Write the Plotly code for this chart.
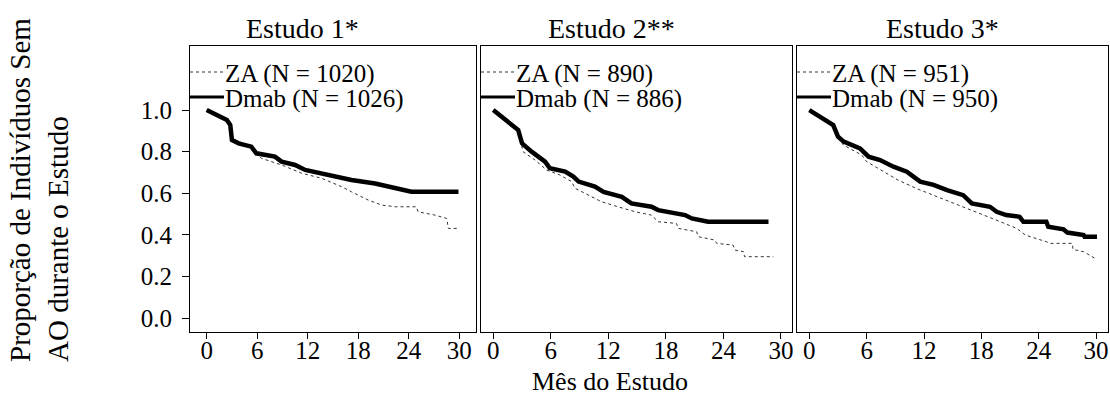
import plotly.graph_objects as go

# ---------------- data ----------------
months_ticks = [0, 6, 12, 18, 24, 30]
prop_ticks = [0.0, 0.2, 0.4, 0.6, 0.8, 1.0]
panel_titles = ["Estudo 1*", "Estudo 2**", "Estudo 3*"]
za_labels = ["ZA (N = 1020)", "ZA (N = 890)", "ZA (N = 951)"]
dm_labels = ["Dmab (N = 1026)", "Dmab (N = 886)", "Dmab (N = 950)"]

s1_za_m = [0, 2.4, 2.8, 3.0, 3.8, 5.3, 5.9, 6.5, 8.9, 11.3, 13.65, 16.0, 17.2, 19.2,
           20.8, 22.4, 24.9, 25.1, 27.1, 28.5, 28.7, 29.9]
s1_za_v = [1.0, 0.952, 0.928, 0.856, 0.840, 0.824, 0.792, 0.768, 0.736, 0.696, 0.672,
           0.632, 0.607, 0.567, 0.543, 0.535, 0.535, 0.511, 0.495, 0.479, 0.431, 0.431]
s1_dm_m = [0, 2.4, 2.8, 3.0, 3.8, 5.3, 5.9, 8.1, 8.9, 10.5, 11.7, 14.4, 17.2, 20.0,
           22.75, 24.3, 29.9]
s1_dm_v = [1.0, 0.952, 0.928, 0.856, 0.840, 0.824, 0.792, 0.776, 0.752, 0.736, 0.712,
           0.688, 0.664, 0.647, 0.619, 0.607, 0.607]

s2_za_m = [0, 1.6, 2.6, 2.9, 3.1, 4.35, 5.56, 6.95, 8.17, 8.52, 9.9, 11.3, 13.0, 14.8,
           16.5, 17.2, 19.1, 19.3, 21.2, 21.4, 23.1, 23.3, 25.0, 25.2, 26.1, 26.2, 29.2]
s2_za_v = [1.0, 0.944, 0.904, 0.850, 0.800, 0.760, 0.712, 0.688, 0.656, 0.624, 0.591,
           0.559, 0.535, 0.511, 0.495, 0.463, 0.455, 0.431, 0.415, 0.391, 0.375, 0.359,
           0.351, 0.327, 0.319, 0.295, 0.295]
s2_dm_m = [0, 1.6, 2.6, 3.0, 4.0, 5.4, 5.9, 7.5, 8.35, 8.9, 10.6, 11.5, 13.4, 14.4, 16.5,
           17.2, 20.0, 20.7, 22.4, 28.7]
s2_dm_v = [1.0, 0.944, 0.904, 0.840, 0.800, 0.752, 0.720, 0.704, 0.680, 0.656, 0.632,
           0.607, 0.583, 0.551, 0.535, 0.519, 0.495, 0.479, 0.463, 0.463]

s3_za_m = [0, 1.5, 2.5, 3.0, 3.56, 5.48, 6.0, 7.75, 9.3, 11.2, 13.0, 14.7, 16.5, 18.2,
           20.0, 21.7, 22.6, 24.8, 25.2, 27.5, 27.6, 28.7, 30.0]
s3_za_v = [1.0, 0.960, 0.928, 0.868, 0.832, 0.784, 0.752, 0.704, 0.663, 0.623, 0.591,
           0.559, 0.527, 0.495, 0.463, 0.431, 0.399, 0.367, 0.359, 0.359, 0.330, 0.319,
           0.284]
s3_dm_m = [0, 1.5, 2.5, 3.0, 3.6, 5.3, 6.2, 7.4, 8.8, 10.2, 11.6, 13.0, 14.4, 16.1, 17.0,
           18.9, 19.6, 20.6, 22.0, 22.4, 24.8, 25.0, 26.6, 27.0, 28.7, 28.8, 30.1]
s3_dm_v = [1.0, 0.960, 0.928, 0.872, 0.848, 0.816, 0.776, 0.760, 0.728, 0.704, 0.656,
           0.640, 0.615, 0.591, 0.551, 0.535, 0.511, 0.495, 0.487, 0.463, 0.463, 0.439,
           0.427, 0.411, 0.399, 0.391, 0.391]

za_series = [(s1_za_m, s1_za_v), (s2_za_m, s2_za_v), (s3_za_m, s3_za_v)]
dm_series = [(s1_dm_m, s1_dm_v), (s2_dm_m, s2_dm_v), (s3_dm_m, s3_dm_v)]

# ---------------- layout geometry ----------------
W, H = 1110, 396
px_dom = [(190, 476), (481, 792), (797, 1108)]
x_ranges = [(-1.98, 31.98), (-1.28, 31.15), (-1.29, 31.25)]
y_range = (-0.067, 1.308)
y_dom = ((H - 332) / H, (H - 46) / H)
title_x = [302, 611, 942]

FONT = "Liberation Serif"

fig = go.Figure()
for i in range(3):
    xa = "x" if i == 0 else f"x{i+1}"
    ya = "y" if i == 0 else f"y{i+1}"
    fig.add_trace(go.Scatter(x=za_series[i][0], y=za_series[i][1], mode="lines",
                             line=dict(color="#333333", width=1, dash="dot"),
                             xaxis=xa, yaxis=ya, showlegend=False, hoverinfo="skip"))
    fig.add_trace(go.Scatter(x=dm_series[i][0], y=dm_series[i][1], mode="lines",
                             line=dict(color="black", width=4.5),
                             xaxis=xa, yaxis=ya, showlegend=False, hoverinfo="skip"))

layout = dict(width=W, height=H, margin=dict(l=0, r=0, t=0, b=0),
              paper_bgcolor="white", plot_bgcolor="white",
              font=dict(family=FONT, color="black", size=25), showlegend=False)

for i in range(3):
    xk = "xaxis" if i == 0 else f"xaxis{i+1}"
    yk = "yaxis" if i == 0 else f"yaxis{i+1}"
    yname = "y" if i == 0 else f"y{i+1}"
    xname = "x" if i == 0 else f"x{i+1}"
    layout[xk] = dict(domain=[px_dom[i][0] / W, px_dom[i][1] / W], range=list(x_ranges[i]),
                      anchor=yname, tickvals=months_ticks, ticks="outside", ticklen=6,
                      tickcolor="black", showline=True, linecolor="black", linewidth=1,
                      mirror=True, showgrid=False, zeroline=False, automargin=False,
                      ticklabelstandoff=-10,
                      tickfont=dict(family=FONT, size=25, color="black"))
    layout[yk] = dict(domain=list(y_dom), range=list(y_range), anchor=xname,
                      tickvals=prop_ticks, tickformat=".1f",
                      ticks="outside" if i == 0 else "", ticklen=7, tickcolor="black",
                      showticklabels=(i == 0), showline=True, linecolor="black",
                      linewidth=1, mirror=True, showgrid=False, zeroline=False,
                      automargin=False, ticklabelstandoff=5,
                      tickfont=dict(family=FONT, size=25, color="black"))

annotations = []
shapes = []
for i in range(3):
    annotations.append(dict(text=panel_titles[i], x=title_x[i] / W, y=(H - 28) / H,
                            xref="paper", yref="paper", showarrow=False,
                            xanchor="center", yanchor="middle",
                            font=dict(family=FONT, size=28, color="black")))
    xd = "x domain" if i == 0 else f"x{i+1} domain"
    wpx = px_dom[i][1] - px_dom[i][0]
    for lbl, ypx, style in [(za_labels[i], 72, dict(color="#333333", width=1, dash="dot")),
                            (dm_labels[i], 97, dict(color="black", width=3))]:
        shapes.append(dict(type="line", xref=xd, yref="paper", x0=0, x1=34 / wpx,
                           y0=(H - ypx) / H, y1=(H - ypx) / H, line=style))
        annotations.append(dict(text=lbl, xref=xd, yref="paper", x=33 / wpx,
                                y=(H - ypx) / H, xanchor="left", yanchor="middle",
                                yshift=-2, showarrow=False,
                                font=dict(family=FONT, size=25, color="black")))

annotations.append(dict(text="Proporção de Indivíduos Sem<br>AO durante o Estudo",
                        x=39 / W, y=(H - 190) / H, xref="paper", yref="paper",
                        textangle=-90, align="left", showarrow=False,
                        xanchor="center", yanchor="middle",
                        font=dict(family=FONT, size=29, color="black")))
annotations.append(dict(text="Mês do Estudo", x=610 / W, y=(H - 381) / H,
                        xref="paper", yref="paper", showarrow=False,
                        xanchor="center", yanchor="middle",
                        font=dict(family=FONT, size=26, color="black")))

layout["annotations"] = annotations
layout["shapes"] = shapes
fig.update_layout(**layout)
fig.write_html("out.html", config={"displayModeBar": False},
               post_script="document.body.style.margin='0';document.body.style.padding='0';")
